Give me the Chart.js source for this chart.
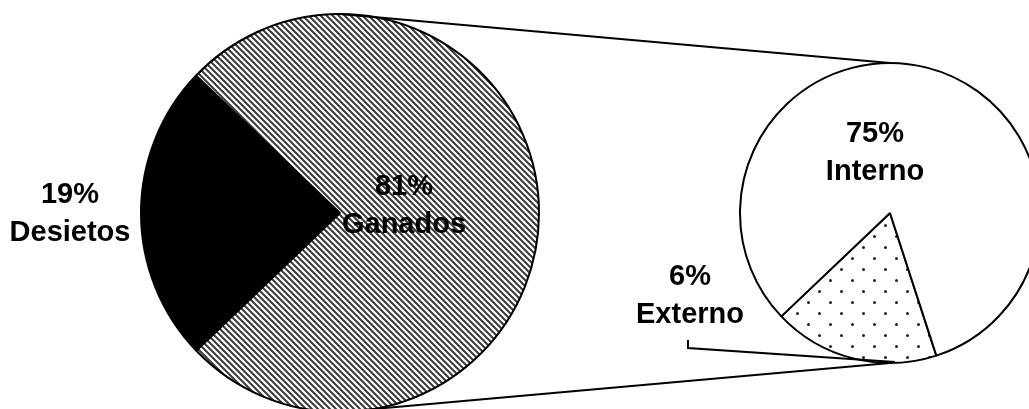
<!DOCTYPE html>
<html>
<head>
<meta charset="utf-8">
<script src="https://cdn.jsdelivr.net/npm/chart.js@4"></script>
<style>
  html, body { margin: 0; padding: 0; background: #fff; overflow: hidden; }
  #wrap { position: relative; width: 1029px; height: 409px; }
  #wrap canvas { position: absolute; left: 0; top: 0; }
</style>
</head>
<body>
<div id="wrap">
  <canvas id="pieMain" width="1029" height="409"></canvas>
  <canvas id="pieSub" width="1029" height="409"></canvas>
</div>
<script>
// main pie
const mainNames = ['Desietos', 'Ganados'];
const mainShares = [24.3, 75.7];          // slice sizes as drawn
const mainLabels = ['19%', '81%'];        // printed labels

// secondary pie (break-out of Ganados)
const subNames = ['Externo', 'Interno'];
const subShares = [17.9, 82.1];
const subLabels = ['6%', '75%'];

const FONT = 'bold 29px "Liberation Sans", Arial, sans-serif';

function hatchPattern() {
  const s = 6;
  const c = document.createElement('canvas');
  c.width = s; c.height = s;
  const g = c.getContext('2d');
  g.fillStyle = '#fff';
  g.fillRect(0, 0, s, s);
  g.strokeStyle = '#3a3a3a';
  g.lineWidth = 2;
  g.beginPath();
  for (let o = -s; o <= s; o += s) {
    g.moveTo(o - 1, -1);
    g.lineTo(o + s + 1, s + 1);
  }
  g.stroke();
  const p = g.createPattern(c, 'repeat');
  p.setTransform(new DOMMatrix().translate(5, 0));
  return p;
}

function dotPattern() {
  const s = 22;
  const c = document.createElement('canvas');
  c.width = s; c.height = s;
  const g = c.getContext('2d');
  g.fillStyle = '#fff';
  g.fillRect(0, 0, s, s);
  g.fillStyle = '#222';
  [[5.5, 5.5], [16.5, 16.5]].forEach(p => {
    g.beginPath();
    g.arc(p[0], p[1], 1.5, 0, Math.PI * 2);
    g.fill();
  });
  return g.createPattern(c, 'repeat');
}

// label placement relative to each pie's centre: [dx, dy of first baseline]
const mainLabelPos = [[-270, -10], [64, -18]];
const subLabelPos = [[-200, 72], [-15, -71]];

function labelPlugin(names, labels, pos, leader) {
  return {
    id: 'sliceLabels',
    afterDatasetsDraw(chart) {
      const ctx = chart.ctx;
      const arc = chart.getDatasetMeta(0).data[0];
      ctx.save();
      ctx.font = FONT;
      ctx.fillStyle = '#000';
      ctx.textAlign = 'center';
      ctx.textBaseline = 'alphabetic';
      names.forEach((n, i) => {
        const x = arc.x + pos[i][0];
        const y = arc.y + pos[i][1];
        ctx.fillText(labels[i], x, y);
        ctx.fillText(n, x, y + 38);
      });
      if (leader) {
        const x = arc.x + pos[0][0] - 2;
        const y = arc.y + pos[0][1] + 38 + 17;
        ctx.strokeStyle = '#000';
        ctx.lineWidth = 2;
        ctx.beginPath();
        ctx.moveTo(x, y);
        ctx.lineTo(x, y + 8);
        ctx.lineTo(arc.x + 5, arc.y + arc.outerRadius - 1);
        ctx.stroke();
      }
      ctx.restore();
    }
  };
}

const mainChart = new Chart(document.getElementById('pieMain'), {
  type: 'pie',
  data: {
    labels: mainNames,
    datasets: [{
      data: mainShares,
      backgroundColor: ['#000', hatchPattern()],
      borderColor: '#000',
      borderWidth: 2
    }]
  },
  options: {
    responsive: false,
    animation: false,
    rotation: 226.2,
    radius: 199,
    layout: { padding: { left: 0, right: 349, top: 17, bottom: 0 } },
    plugins: { legend: { display: false }, tooltip: { enabled: false } },
    events: []
  },
  plugins: [labelPlugin(mainNames, mainLabels, mainLabelPos, false)]
});

// connector lines from the main pie to the secondary pie
const connectors = {
  id: 'connectors',
  beforeDatasetsDraw(chart) {
    const a = mainChart.getDatasetMeta(0).data[0];
    const b = chart.getDatasetMeta(0).data[0];
    const ctx = chart.ctx;
    ctx.save();
    ctx.strokeStyle = '#000';
    ctx.lineWidth = 2;
    ctx.beginPath();
    ctx.moveTo(a.x, a.y - a.outerRadius);
    ctx.lineTo(b.x, b.y - b.outerRadius);
    ctx.moveTo(a.x, a.y + a.outerRadius);
    ctx.lineTo(b.x, b.y + b.outerRadius);
    ctx.stroke();
    ctx.restore();
  }
};

new Chart(document.getElementById('pieSub'), {
  type: 'pie',
  data: {
    labels: subNames,
    datasets: [{
      data: subShares,
      backgroundColor: [dotPattern(), '#fff'],
      borderColor: '#000',
      borderWidth: 2
    }]
  },
  options: {
    responsive: false,
    animation: false,
    rotation: 162,
    radius: 150,
    layout: { padding: { left: 751, right: 0, top: 17, bottom: 0 } },
    plugins: { legend: { display: false }, tooltip: { enabled: false } },
    events: []
  },
  plugins: [connectors, labelPlugin(subNames, subLabels, subLabelPos, true)]
});
</script>
</body>
</html>
